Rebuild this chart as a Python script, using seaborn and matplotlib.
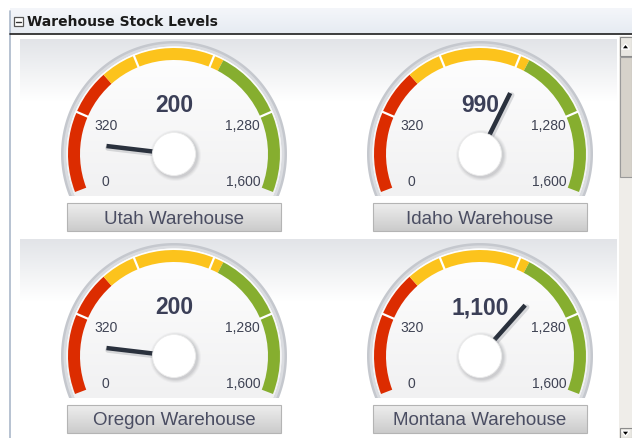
import numpy as np
import pandas as pd
import matplotlib
matplotlib.use("Agg")
import matplotlib.pyplot as plt
import seaborn as sns
from matplotlib.patches import Polygon, Wedge, Circle, Rectangle
from matplotlib.colors import LinearSegmentedColormap

# ---- data -------------------------------------------------------------
warehouses = ["Utah Warehouse", "Idaho Warehouse", "Oregon Warehouse", "Montana Warehouse"]
stock_levels = [200, 990, 200, 1100]
scale_min, scale_max = 0, 1600
tick_labels = {0: "0", 320: "320", 1280: "1,280", 1600: "1,600"}
tick_marks = [320, 640, 960, 1280]
band_edges = [0, 500, 1000, 1600]
band_colors = ["#dc2c00", "#fcc31c", "#86ae2f"]
title = "Warehouse Stock Levels"

# ---- layout (pixel space, y pointing up) -----------------------------
W, H = 632, 439
gauge_centers = [(174, 155), (480, 155), (174, 357), (480, 357)]  # from top
START_ANG, END_ANG = 201.0, -21.0

sns.set_theme(style="white")
plt.rcParams["font.family"] = ["Liberation Sans", "DejaVu Sans"]

fig = plt.figure(figsize=(W / 100, H / 100), dpi=100)
ax = fig.add_axes([0, 0, 1, 1])
ax.set_xlim(0, W)
ax.set_ylim(0, H)
ax.axis("off")


def Y(y):
    return H - y


def vgrad(x0, x1, ytop, ybot, c_top, c_bot, z, clip=None):
    cmap = LinearSegmentedColormap.from_list("g", [c_top, c_bot])
    im = ax.imshow(np.linspace(0, 1, 128).reshape(-1, 1), cmap=cmap,
                   extent=[x0, x1, Y(ybot), Y(ytop)], origin="upper",
                   aspect="auto", zorder=z, interpolation="bicubic")
    if clip is not None:
        im.set_clip_path(clip)
    return im


def val_angle(v):
    frac = (v - scale_min) / (scale_max - scale_min)
    return START_ANG - frac * (START_ANG - END_ANG)


def arc_poly(cx, cy, r, flat_dy):
    a = np.degrees(np.arcsin(min(flat_dy / r, 0.99)))
    th = np.radians(np.linspace(-a, 180 + a, 200))
    return np.column_stack([cx + r * np.cos(th), cy + r * np.sin(th)])


# ---- panel chrome -------------------------------------------------------
vgrad(10, W, 9, 35, "#f4f6fa", "#e6ebf2", 1)
ax.plot([10, 10], [Y(12), 0], color="#aab7c9", lw=1.2, zorder=2)
ax.plot([10, W], [Y(35), Y(35)], color="#1e1e1e", lw=1.2, zorder=3)
# collapse icon
ax.add_patch(Rectangle((14, Y(27)), 9, 9, facecolor="white",
                       edgecolor="#555555", lw=0.9, zorder=3))
ax.plot([16, 21], [Y(22.5), Y(22.5)], color="#333333", lw=1.0, zorder=4)
ax.text(27, Y(22), title, fontsize=10, fontweight="bold", color="#1a1a1a",
        family=["DejaVu Sans"], va="center", ha="left", zorder=4)

# row background gradients
for top in (40, 240):
    vgrad(20, 617, top, top + 62, "#e2e4e8", "#ffffff", 1)

# scrollbar
ax.add_patch(Rectangle((619, 0), 13, Y(37), facecolor="#efede9",
                       edgecolor="none", zorder=2))
ax.add_patch(Rectangle((619.5, Y(57)), 12, 19, facecolor="#e9e7e2",
                       edgecolor="#8c8c8c", lw=0.8, zorder=3))
ax.add_patch(Polygon([[621.5, Y(50)], [629.5, Y(50)], [625.5, Y(45)]],
                     closed=True, facecolor="black", zorder=4))
ax.add_patch(Rectangle((619.5, Y(178)), 12, 120, facecolor="#d6d2ca",
                       edgecolor="#9a9a9a", lw=0.8, zorder=3))
ax.add_patch(Rectangle((619.5, 0.5), 12, 10, facecolor="#e9e7e2",
                       edgecolor="#8c8c8c", lw=0.8, zorder=3))
ax.add_patch(Polygon([[621.5, Y(432)], [629.5, Y(432)], [625.5, Y(437)]],
                     closed=True, facecolor="black", zorder=4))

# ---- gauges ---------------------------------------------------------------
needle_rows = []
for name, value, (cxp, cyp) in zip(warehouses, stock_levels, gauge_centers):
    cx, cy = cxp, Y(cyp)
    flat = 42

    # bezel
    ax.add_patch(Polygon(arc_poly(cx, cy, 113, flat), closed=True,
                         facecolor="#c5c8ce", edgecolor="none", zorder=3))
    ax.add_patch(Polygon(arc_poly(cx, cy, 110.5, flat), closed=True,
                         facecolor="#dadce0", edgecolor="none", zorder=3))
    face = Polygon(arc_poly(cx, cy, 107.5, flat), closed=True,
                   facecolor="white", edgecolor="none", zorder=4)
    ax.add_patch(face)
    vgrad(cx - 110, cx + 110, cyp - 110, cyp + flat, "#ffffff", "#f1f1f2", 4,
          clip=face)

    # coloured bands
    for lo, hi, col in zip(band_edges[:-1], band_edges[1:], band_colors):
        ax.add_patch(Wedge((cx, cy), 106, val_angle(hi), val_angle(lo),
                           width=12, facecolor=col, edgecolor="none", zorder=5))
    for t in tick_marks:
        a = np.radians(val_angle(t))
        ax.plot([cx + 93 * np.cos(a), cx + 107 * np.cos(a)],
                [cy + 93 * np.sin(a), cy + 107 * np.sin(a)],
                color="white", lw=1.6, zorder=6, solid_capstyle="butt")

    # scale labels
    for t, lab in tick_labels.items():
        a = np.radians(val_angle(t))
        ax.text(cx + 74 * np.cos(a), cy + 74 * np.sin(a), lab, fontsize=10,
                color="#3f4354", ha="center", va="center", zorder=7)

    # value readout
    ax.text(cx, cy + 49, f"{value:,}", fontsize=16.5, fontweight="bold",
            color="#3b3f57", ha="center", va="center", zorder=7)

    # needle geometry
    a = np.radians(val_angle(value))
    needle_rows.append({"gauge": name, "x": cx, "y": cy})
    needle_rows.append({"gauge": name, "x": cx + 68 * np.cos(a),
                        "y": cy + 68 * np.sin(a)})

    # hub with soft shadow
    for k, al in ((4.0, 0.05), (3.0, 0.07), (2.0, 0.09), (1.0, 0.10)):
        ax.add_patch(Circle((cx + 1.5, cy - 1.5), 21.5 + k, facecolor="#6d7078",
                            alpha=al, edgecolor="none", zorder=9))
    ax.add_patch(Circle((cx, cy), 21.5, facecolor="white", edgecolor="#ececec",
                        lw=0.6, zorder=10))

    # name plate
    ax.add_patch(Rectangle((cx - 107, cy - 77), 214, 28, facecolor="none",
                           edgecolor="#b4b4b4", lw=0.8, zorder=6))
    vgrad(cx - 107, cx + 107, cyp + 49, cyp + 77, "#eeeeee", "#cbcbcb", 5)
    ax.text(cx, cy - 64, name, fontsize=13.5, color="#4a4d62",
            ha="center", va="center", zorder=7)

needles = pd.DataFrame(needle_rows)
# needle shadow then needle
shadow = needles.assign(x=needles.x + 1.5, y=needles.y - 2)
sns.lineplot(data=shadow, x="x", y="y", units="gauge", estimator=None,
             sort=False, color="#9a9da3", alpha=0.35, lw=4, ax=ax, zorder=7)
sns.lineplot(data=needles, x="x", y="y", units="gauge", estimator=None,
             sort=False, color="#2a313d", lw=3.2, ax=ax, zorder=8,
             solid_capstyle="butt")

ax.set_xlim(0, W)
ax.set_ylim(0, H)
ax.axis("off")
fig.savefig("out.png", dpi=100, facecolor="white")
